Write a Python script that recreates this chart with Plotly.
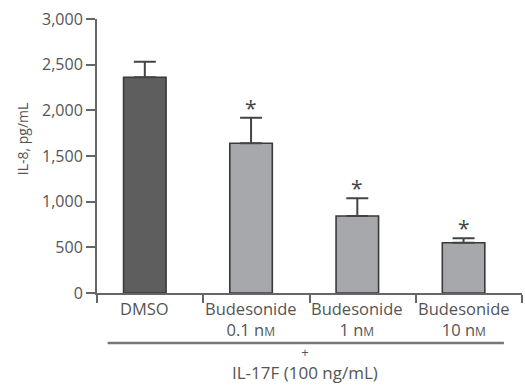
import plotly.graph_objects as go

categories = ["DMSO",
              "Budesonide<br>0.1 n<span style='font-size:12px'>M</span>",
              "Budesonide<br>1 n<span style='font-size:12px'>M</span>",
              "Budesonide<br>10 n<span style='font-size:12px'>M</span>"]
means = [2362, 1639, 843, 551]
errors = [170, 280, 194, 48]
significant = [False, True, True, True]
bar_colors = ["#5e5e5e", "#a6a8ab", "#a6a8ab", "#a6a8ab"]
y_ticks = [0, 500, 1000, 1500, 2000, 2500, 3000]
y_ticktext = ["0", "500", "1,000", "1,500", "2,000", "2,500", "3,000"]
boundaries = [-0.45, 0.55, 1.55, 2.55, 3.55]
treatment_label = "<span style='font-size:13px'>+</span><br>IL-17F (100 ng/mL)"

FONT = "Open Sans"
TXT = "#555555"
x_pos = list(range(len(categories)))

fig = go.Figure()
fig.add_trace(go.Bar(
    x=x_pos, y=means, width=0.4,
    marker=dict(color=bar_colors, line=dict(color="#3a3a3a", width=1.6)),
    error_y=dict(type="data", array=errors, symmetric=False, arrayminus=[0]*4,
                 color="#444444", thickness=2, width=11),
    showlegend=False,
))

annotations = []
for i in x_pos:
    annotations.append(dict(x=i, y=0, xref="x", yref="paper", text=categories[i],
                            showarrow=False, yanchor="top", yshift=-2,
                            font=dict(family=FONT, size=16.5, color=TXT)))
for i, s in enumerate(significant):
    if s:
        annotations.append(dict(x=i, y=means[i] + errors[i], xref="x", yref="y",
                                text="*", showarrow=False, yanchor="bottom", yshift=-6,
                                font=dict(family=FONT, size=21, color="#444444")))
annotations.append(dict(x=1.51, y=0, xref="x", yref="paper", text=treatment_label,
                        showarrow=False, yanchor="top", yshift=-48,
                        font=dict(family=FONT, size=17, color=TXT)))
annotations.append(dict(x=-0.176, y=0.562, xref="paper", yref="paper", text="IL-8, pg/mL",
                        showarrow=False, textangle=-90, xanchor="center", yanchor="middle",
                        font=dict(family=FONT, size=14, color=TXT)))

plot_h = 386 - 19 - 93
fig.update_layout(
    width=525, height=386,
    margin=dict(l=97, r=3, t=19, b=93),
    paper_bgcolor="white", plot_bgcolor="white",
    xaxis=dict(range=[-0.45, 3.55], tickvals=boundaries, showticklabels=False,
               ticks="outside", ticklen=8, tickwidth=1.5, tickcolor="#666666",
               showline=True, linecolor="#666666", linewidth=2,
               showgrid=False, zeroline=False, fixedrange=True),
    yaxis=dict(range=[0, 3000], tickvals=y_ticks, ticktext=y_ticktext,
               ticks="outside", ticklen=9, tickwidth=1.5, tickcolor="#666666",
               showline=True, linecolor="#666666", linewidth=2,
               showgrid=False, zeroline=False,
               tickfont=dict(family=FONT, size=16, color=TXT)),
    annotations=annotations,
    shapes=[dict(type="line", xref="x", yref="paper", x0=-0.35, x1=3.38,
                 y0=-50 / plot_h, y1=-50 / plot_h,
                 line=dict(color="#777777", width=2.5))],
)

fig.write_html("out.html")
